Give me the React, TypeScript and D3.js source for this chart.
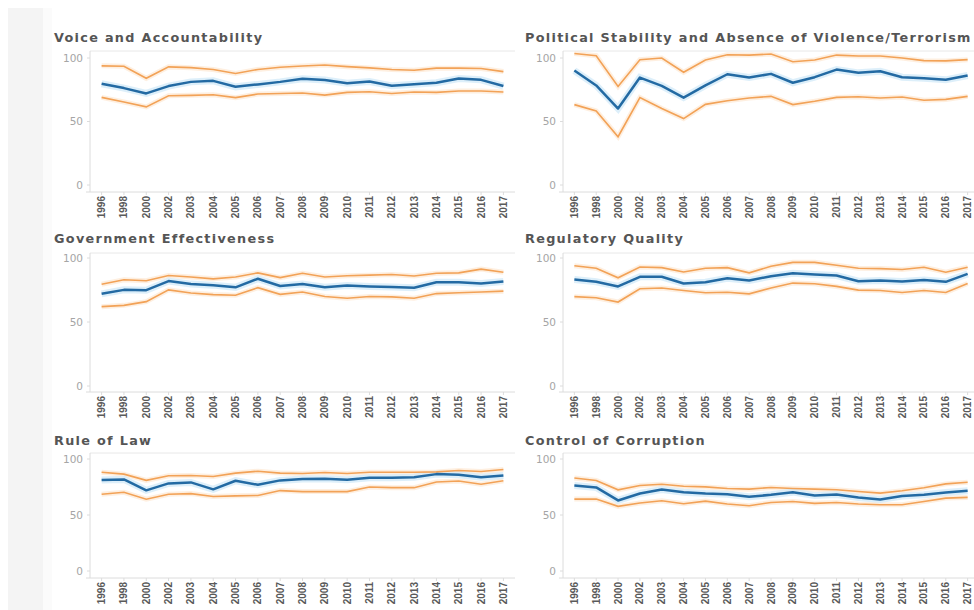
import React from "react";
import * as d3 from "d3";

const years = ["1996","1998","2000","2002","2003","2004","2005","2006","2007","2008","2009","2010","2011","2012","2013","2014","2015","2016","2017"];
const yTicks = [0, 50, 100];

const titles = [
  "Voice and Accountability",
  "Political Stability and Absence of Violence/Terrorism",
  "Government Effectiveness",
  "Regulatory Quality",
  "Rule of Law",
  "Control of Corruption",
];

// Voice and Accountability
const vaUpper = [93.8,93.5,84,93,92.4,91,87.8,91,92.7,93.7,94.5,93.2,92.2,91,90.4,92,92,91.7,89.3];
const vaRank  = [79.7,76.3,72.1,77.9,81.2,82,77.3,79.2,81.2,83.6,82.6,80.2,81.5,78.1,79.4,80.5,83.9,82.8,77.9];
const vaLower = [69,65.4,61.5,70.3,70.6,71.1,68.8,71.6,72.1,72.4,70.8,72.9,73.4,72.1,73.2,72.9,74,74,73.2];

// Political Stability
const psUpper = [103.6,101.8,77.6,98.7,100,88.8,98.4,102.6,102.3,103.1,97.1,98.4,102.3,101.6,101.6,100,97.9,97.7,98.7];
const psRank  = [90.1,78.4,60.2,84.6,78.1,68.8,78.4,87.2,84.6,87.5,80.5,84.9,90.9,88.3,89.6,84.9,84.1,82.8,86.2];
const psLower = [63.3,58.3,38,68.8,60.2,52.3,63.5,66.4,68.5,69.8,63.3,65.9,69,69.5,68.5,69.3,66.7,67.4,69.8];

// Government Effectiveness
const geUpper = [79.5,83,82.2,86.3,85.2,83.7,85.2,88.4,84.7,88.1,85.2,86.1,86.6,87.1,85.9,88.1,88.4,91.3,88.9];
const geRank  = [72,75.1,74.9,82,79.6,78.8,77.1,83.8,78.1,79.6,77.1,78.6,77.8,77.3,76.8,81.1,81.1,80.1,81.6];
const geLower = [62,63,65.9,75.1,72.7,71.4,70.9,76.8,71.6,73.4,69.9,68.6,69.9,69.6,68.6,72.2,72.9,73.4,74.1];

// Regulatory Quality
const rqUpper = [94,92,84.5,93,92.5,89.1,92,92.5,88.4,93.5,96.6,96.6,94.3,92,91.7,91,92.8,88.9,92.8];
const rqRank  = [83.2,81.4,77.8,85.3,85.3,80.1,81.1,84.2,82.4,85.8,88.1,87.1,86.3,81.9,82.4,81.6,82.9,81.4,87.6];
const rqLower = [69.8,69,65.6,76,76.6,74.6,72.8,73.3,72,76.6,80.4,79.9,77.8,74.9,74.6,73.1,74.6,73.1,80.1];

// Rule of Law
const rlUpper = [88.2,86.5,80.9,85,85.3,84.4,87.4,89.1,87.4,87.1,87.9,87.1,88.2,88.2,88.2,88.5,89.7,88.8,90.6];
const rlRank  = [81.2,81.8,72,78.2,79.1,72.9,80.6,77,80.9,82.1,82.4,81.5,83.2,83.2,83.8,86.5,85.9,83.8,85.3];
const rlLower = [68.5,70.3,64.1,68.5,69.1,66.5,67.1,67.4,71.8,70.9,70.9,70.9,75,74.4,74.4,79.4,80.3,77.4,80.6];

// Control of Corruption
const ccUpper = [83.1,80.8,72.5,76.3,77.5,75.7,75.1,73.7,73.1,74.6,73.7,73.1,72.5,71,69.5,71.6,74.3,77.8,79.3];
const ccRank  = [76.3,74.6,63,69.2,72.8,70.4,69.2,68.6,66.3,68,70.4,67.5,68.3,65.7,63.9,66.9,68,70.1,71.6];
const ccLower = [64.2,64.2,57.7,60.7,62.7,60.1,62.4,59.8,58.3,61.2,62.1,60.4,61.2,59.8,59.2,59.2,62.1,65.1,65.7];

const panelSeries = [
  { upper: vaUpper, rank: vaRank, lower: vaLower },
  { upper: psUpper, rank: psRank, lower: psLower },
  { upper: geUpper, rank: geRank, lower: geLower },
  { upper: rqUpper, rank: rqRank, lower: rqLower },
  { upper: rlUpper, rank: rlRank, lower: rlLower },
  { upper: ccUpper, rank: ccRank, lower: ccLower },
];

const cols = [
  { titleX: 54, left: 90, right: 515 },
  { titleX: 525, left: 563, right: 979 },
];
const rows = [
  { titleY: 42, top: 51, y100: 58, y0: 185, bottom: 192 },
  { titleY: 243, top: 253, y100: 258, y0: 386, bottom: 392 },
  { titleY: 445, top: 453, y100: 459, y0: 571, bottom: 578 },
];

const BLUE = "#236aa3";
const ORANGE = "#f2a257";
const AXIS = "#dcdcdc";

function Panel({ idx }: { idx: number }) {
  const col = cols[idx % 2];
  const row = rows[Math.floor(idx / 2)];
  const s = panelSeries[idx];
  const x = d3.scalePoint<string>().domain(years).range([col.left, col.right]).padding(0.52);
  const y = d3.scaleLinear().domain([0, 100]).range([row.y0, row.y100]);
  const line = d3
    .line<number>()
    .x((_, i) => x(years[i]) as number)
    .y((v) => y(v));
  return (
    <g>
      <text x={col.titleX} y={row.titleY} fontFamily="'DejaVu Sans', sans-serif" fontWeight="bold" fontSize={12.8} letterSpacing={1.3} fill="#555">
        {titles[idx]}
      </text>
      <line x1={col.left} x2={col.right} y1={row.top} y2={row.top} stroke="#e8e8e8" />
      <line x1={col.left} x2={col.left} y1={row.top} y2={row.bottom} stroke={AXIS} />
      <line x1={col.left - 4} x2={col.right} y1={row.bottom} y2={row.bottom} stroke={AXIS} />
      {yTicks.map((t) => (
        <g key={t}>
          <line x1={col.left - 3} x2={col.left} y1={y(t)} y2={y(t)} stroke={AXIS} />
          <text x={col.left - 7} y={y(t)} dy="0.35em" textAnchor="end" fontFamily="'DejaVu Sans', sans-serif" fontSize={10.5} fill="#a5a5a5">
            {t}
          </text>
        </g>
      ))}
      {years.map((yr) => (
        <g key={yr}>
          <line x1={x(yr)} x2={x(yr)} y1={row.bottom} y2={row.bottom + 3} stroke={AXIS} />
          <text
            transform={`translate(${x(yr)},${row.bottom + 4}) rotate(-90)`}
            textAnchor="end"
            dy="0.35em"
            fontFamily="'Liberation Sans Narrow', 'Liberation Sans', sans-serif"
            fontSize={10}
            fontWeight="bold"
            fill="#5a5a5a"
          >
            {yr}
          </text>
        </g>
      ))}
      <path d={line(s.upper) || ""} fill="none" stroke="#fde8d3" strokeWidth={5} strokeOpacity={0.7} />
      <path d={line(s.lower) || ""} fill="none" stroke="#fde8d3" strokeWidth={5} strokeOpacity={0.7} />
      <path d={line(s.rank) || ""} fill="none" stroke="#cfe8f8" strokeWidth={7} strokeOpacity={0.7} />
      <path d={line(s.upper) || ""} fill="none" stroke={ORANGE} strokeWidth={1.6} />
      <path d={line(s.lower) || ""} fill="none" stroke={ORANGE} strokeWidth={1.6} />
      <path d={line(s.rank) || ""} fill="none" stroke={BLUE} strokeWidth={2.5} strokeLinejoin="round" />
    </g>
  );
}

export default function App() {
  return (
    <svg width={974} height={610} style={{ position: "absolute", left: 0, top: 0, background: "#fff" }}>
      <rect x={8} y={8} width={35} height={602} fill="#f4f4f4" />
      <rect x={43} y={8} width={9} height={602} fill="#fbfbfb" />
      {titles.map((_, i) => (
        <Panel key={i} idx={i} />
      ))}
    </svg>
  );
}
